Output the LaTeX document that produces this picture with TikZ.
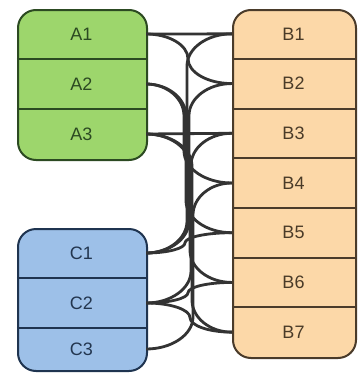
\documentclass[tikz,border=0pt]{standalone}
\usepackage{fontspec}
\usetikzlibrary{calc}
\setmainfont{Liberation Sans}
\definecolor{afill}{HTML}{9DD66C}
\definecolor{aline}{HTML}{2C4A22}
\definecolor{atext}{HTML}{2C4A22}
\definecolor{cfill}{HTML}{9DC0E8}
\definecolor{cline}{HTML}{1F3450}
\definecolor{ctext}{HTML}{23364F}
\definecolor{bfill}{HTML}{FCD8A8}
\definecolor{bline}{HTML}{4A3B2A}
\definecolor{btext}{HTML}{4A3B28}
\definecolor{wire}{HTML}{333333}
\tikzset{
  panel/.style={rounded corners=18pt, line width=2pt, anchor=north west, inner sep=0pt},
  cell/.style={inner sep=0pt, font=\fontsize{18}{21}\selectfont},
  divider/.style={line width=2pt},
  link/.style={draw=wire, line width=2.8pt},
}
\begin{document}
\begin{tikzpicture}[x=1pt,y=-1pt]
\useasboundingbox (0,0) rectangle (360,375);

% left upper group
\node[panel, fill=afill, draw=aline, minimum width=129pt, minimum height=150pt] (boxa) at (17,9) {};
\foreach \i/\yc in {1/34,2/84,3/134}
  \node[cell, text=atext, minimum width=129pt, minimum height=50pt] (a\i) at (81.5,\yc) {A\i};
\draw[divider, aline] (a1.south west) -- (a1.south east);
\draw[divider, aline] (a2.south west) -- (a2.south east);

% left lower group
\node[panel, fill=cfill, draw=cline, minimum width=129pt, minimum height=142pt] (boxc) at (17,228) {};
\node[cell, text=ctext, minimum width=129pt, minimum height=50pt] (c1) at (81.5,253) {C1};
\node[cell, text=ctext, minimum width=129pt, minimum height=50pt] (c2) at (81.5,303) {C2};
\node[cell, text=ctext, minimum width=129pt, minimum height=42pt] (c3) at (81.5,349) {C3};
\draw[divider, cline] (c1.south west) -- (c1.south east);
\draw[divider, cline] (c2.south west) -- (c2.south east);

% right group
\node[panel, fill=bfill, draw=bline, minimum width=123pt, minimum height=348pt] (boxb) at (232,9) {};
\foreach \i in {1,...,7}
  \node[cell, text=btext, minimum width=123pt, minimum height=49.714pt] (b\i) at (293.5,{9+49.714*(\i-0.5)}) {B\i};
\foreach \i in {1,...,6}
  \draw[divider, bline] (b\i.south west) -- (b\i.south east);

% level links
\draw[link] (a1.east) -- (b1.west);
\draw[link] (a3.east) -- (b3.west);

% bent links: quarter-ellipse out, vertical run at x = \xm, quarter-ellipse in
\foreach \l/\r/\xm in {a1/b2/188, a2/b4/184, a2/b5/186, a3/b6/190, a3/b7/192,
                       c1/b1/187, c1/b2/189, c1/b5/185, c2/b3/191, c2/b6/188,
                       c2/b7/190, c3/b4/193}
  \draw[link] let \p1=(\l.east), \p2=(\r.west),
                  \n1={sign(\y2-\y1)*min(32,abs(\y2-\y1)/2)} in
    (\p1) .. controls ({\x1+0.55*(\xm pt-\x1)},\y1)
             and ({\xm pt},{\y1+0.45*\n1*1pt}) .. ({\xm pt},{\y1+\n1*1pt})
    -- ({\xm pt},{\y2-\n1*1pt})
    .. controls ({\xm pt},{\y2-0.45*\n1*1pt})
             and ({\x2-0.55*(\x2-\xm pt)},\y2) .. (\p2);
\end{tikzpicture}
\end{document}
